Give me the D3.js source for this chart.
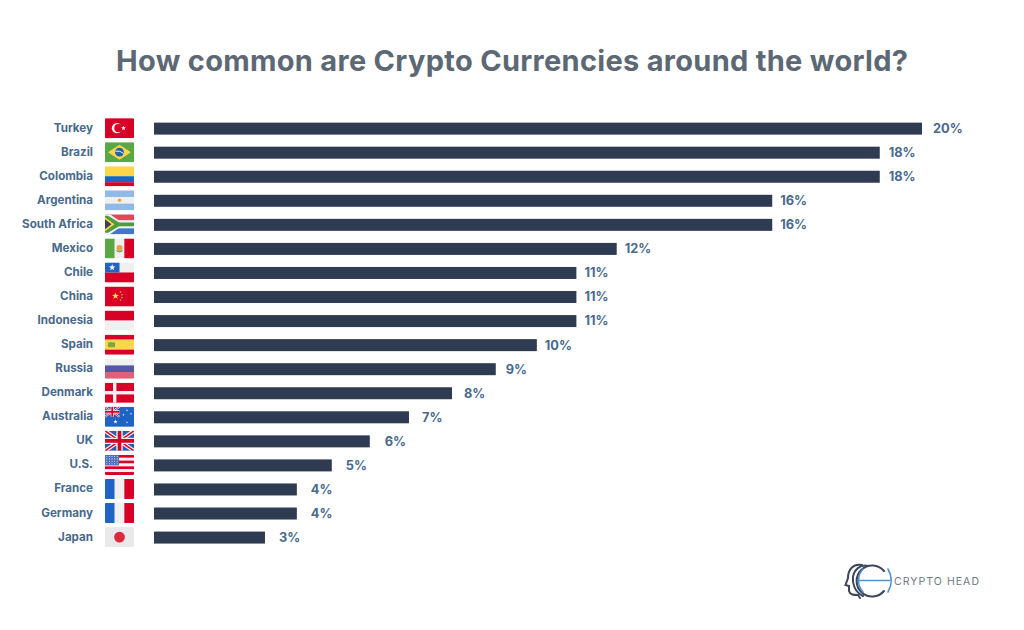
<!DOCTYPE html>
<html><head><meta charset="utf-8">
<script src="https://cdnjs.cloudflare.com/ajax/libs/d3/7.8.5/d3.min.js"></script>
<style>html,body{margin:0;padding:0;background:#fff}svg{display:block}text{font-family:Inter,"Noto Sans",sans-serif}</style>
</head><body><div id="c"></div>
<script>
const countries = ["Turkey","Brazil","Colombia","Argentina","South Africa","Mexico","Chile","China","Indonesia","Spain","Russia","Denmark","Australia","UK","U.S.","France","Germany","Japan"];
const barValues = [20,18.9,18.9,16.1,16.1,12.05,11,11,11,9.97,8.9,7.76,6.64,5.62,4.63,3.72,3.72,2.89];
const valueLabels = ["20%","18%","18%","16%","16%","12%","11%","11%","11%","10%","9%","8%","7%","6%","5%","4%","4%","3%"];
const chartTitle = "How common are Crypto Currencies around the world?";
const brandName = "CRYPTO HEAD";

const W=1024,H=630;
const svg=d3.select("#c").append("svg").attr("width",W).attr("height",H);
svg.append("rect").attr("width",W).attr("height",H).attr("fill","#fff");
const x=d3.scaleLinear().domain([0,20]).range([154,922]);
const y=d3.scaleBand().domain(countries).range([116.6,549.6]).paddingInner(0.5).paddingOuter(0.25);
const cy=d=>y(d)+y.bandwidth()/2;
const labelGaps=[11,9,9,8,8,8,8,8,8,8,10,12,13,15,14,14,14,14];

svg.append("text").attr("x",512).attr("y",71).attr("text-anchor","middle")
  .attr("font-size",29).attr("font-weight",700).attr("fill","#5c6873")
  .attr("textLength",792).attr("lengthAdjust","spacing").text(chartTitle);

svg.selectAll("rect.bar").data(countries).join("rect").attr("class","bar")
  .attr("x",x(0)).attr("y",d=>cy(d)-6).attr("height",12)
  .attr("width",(d,i)=>x(barValues[i])-x(0)).attr("fill","#2f3b50");

svg.selectAll("text.cat").data(countries).join("text").attr("class","cat")
  .attr("x",93).attr("y",d=>cy(d)+3).attr("text-anchor","end")
  .attr("font-size",11.6).attr("font-weight",700).attr("fill","#47698c").text(d=>d);

svg.selectAll("text.val").data(countries).join("text").attr("class","val")
  .attr("x",(d,i)=>x(barValues[i])+labelGaps[i]).attr("y",d=>cy(d)+4.4)
  .attr("font-size",12.8).attr("font-weight",700).attr("fill","#47698c").text((d,i)=>valueLabels[i]);

// flags: local box 29 x 20
const FW=29,FH=20;
const R="#d80027",B="#1f63c4",Wh="#f0f0f0";
const band=(g,cols,horizontal,w)=>{
  const tot=d3.sum(w||cols.map(()=>1));let p=0;
  cols.forEach((c,i)=>{const s=(w?w[i]:1)/tot;
    const r=g.append("rect").attr("fill",c);
    if(horizontal) r.attr("x",0).attr("y",p*FH).attr("width",FW).attr("height",s*FH+0.1);
    else r.attr("x",p*FW).attr("y",0).attr("width",s*FW+0.1).attr("height",FH);
    p+=s;});
};
const star=(g,cx,cy,r,fill)=>{
  const pts=d3.range(10).map(i=>{const a=-Math.PI/2+i*Math.PI/5,q=i%2?r*0.42:r;return [cx+q*Math.cos(a),cy+q*Math.sin(a)].join(",")}).join(" ");
  g.append("polygon").attr("points",pts).attr("fill",fill);
};
const fr=g=>band(g,[B,Wh,R],false);
const unionJack=(g,w,h)=>{
  g.append("rect").attr("width",w).attr("height",h).attr("fill","#2a5bb0");
  const l=(a,b,c,d,col,sw)=>g.append("line").attr("x1",a).attr("y1",b).attr("x2",c).attr("y2",d).attr("stroke",col).attr("stroke-width",sw);
  l(0,0,w,h,Wh,h*.2);l(w,0,0,h,Wh,h*.2);l(0,0,w,h,R,h*.08);l(w,0,0,h,R,h*.08);
  l(w/2,0,w/2,h,Wh,h*.32);l(0,h/2,w,h/2,Wh,h*.32);l(w/2,0,w/2,h,R,h*.18);l(0,h/2,w,h/2,R,h*.18);
};
const flagDraw={
 Turkey:g=>{band(g,[R],true);
   g.append("circle").attr("cx",12).attr("cy",10).attr("r",5.2).attr("fill","#f5f5f5");
   g.append("circle").attr("cx",13.4).attr("cy",10).attr("r",4.1).attr("fill",R);
   star(g,18.5,10,2.5,"#f5f5f5");},
 Brazil:g=>{band(g,["#5aa845"],true);
   g.append("polygon").attr("points","14.5,2.5 26,10 14.5,17.5 3,10").attr("fill","#fdd64a");
   g.append("circle").attr("cx",14.5).attr("cy",10).attr("r",4.4).attr("fill","#1f63a8");
   g.append("path").attr("d","M10.4,9 Q15,8 18.8,11.4").attr("fill","none").attr("stroke","#f0f0f0").attr("stroke-width",1);},
 Colombia:g=>band(g,["#fdd64a",B,R],true,[2,1.2,.8]),
 Argentina:g=>{band(g,["#8fb9e6",Wh,"#8fb9e6"],true);
   g.append("circle").attr("cx",14.5).attr("cy",10).attr("r",1.8).attr("fill","#f2a33a");},
 "South Africa":g=>{band(g,["#e0485a","#f0f0f0","#3f78c8"],true,[6,8,6]);
   g.append("polygon").attr("points","0,0 5,0 15,7 29,7 29,13 15,13 5,20 0,20").attr("fill","#f0f0f0");
   g.append("polygon").attr("points","0,1.5 3,1.5 14,8.2 29,8.2 29,11.8 14,11.8 3,18.5 0,18.5").attr("fill","#4f9c3f");
   g.append("polygon").attr("points","0,3 9.5,10 0,17").attr("fill","#fdd64a");
   g.append("polygon").attr("points","0,5 6.5,10 0,15").attr("fill","#3a4450");},
 Mexico:g=>{band(g,["#5aa845",Wh,R],false);
   g.append("circle").attr("cx",14.5).attr("cy",9.5).attr("r",3).attr("fill","#e8a04a");
   g.append("path").attr("d","M11.5,12 Q14.5,15 17.5,12").attr("fill","none").attr("stroke","#5aa845").attr("stroke-width",1.2);},
 Chile:g=>{band(g,[Wh,R],true);
   g.append("rect").attr("width",14.5).attr("height",10).attr("fill",B);
   star(g,7.2,5,3.4,"#f5f5f5");},
 China:g=>{band(g,[R],true);
   star(g,10.5,9.5,3.6,"#fdd64a");
   [[15.5,5.5],[17,8.2],[17,11],[15.5,13.6]].forEach(p=>star(g,p[0],p[1],1.1,"#fdd64a"));},
 Indonesia:g=>band(g,[R,Wh],true),
 Spain:g=>{band(g,[R,"#fdd64a",R],true,[1,2,1]);
   g.append("rect").attr("x",3).attr("y",7.5).attr("width",7).attr("height",5.2).attr("rx",1).attr("fill","#7ea83c");},
 Russia:g=>band(g,[Wh,"#5458a6","#e0607a"],true),
 Denmark:g=>{band(g,[R],true);
   g.append("rect").attr("x",8).attr("width",3.4).attr("height",FH).attr("fill",Wh);
   g.append("rect").attr("y",8.3).attr("width",FW).attr("height",3.4).attr("fill",Wh);},
 Australia:g=>{band(g,[B],true);
   unionJack(g.append("g"),14.5,10);
   star(g,10.5,15,2.2,"#f5f5f5");
   [[22,3.5],[18.5,8],[26,7],[22,15.5]].forEach(p=>star(g,p[0],p[1],1.2,"#f5f5f5"));},
 UK:g=>unionJack(g,FW,FH),
 "U.S.":g=>{band(g,[R,Wh,R,Wh,R,Wh,R],true);
   g.append("rect").attr("width",14).attr("height",10.5).attr("fill","#4a6fc0");
   d3.range(4).forEach(r=>d3.range(5).forEach(c=>g.append("circle").attr("cx",1.8+c*2.6).attr("cy",1.6+r*2.4).attr("r",.55).attr("fill","#e8e8f0")));},
 France:fr,
 Germany:fr,
 Japan:g=>{band(g,["#e9e9ec"],true);
   g.append("circle").attr("cx",14.5).attr("cy",10).attr("r",5.4).attr("fill","#dc2a3c");}
};
const defs=svg.append("defs");
defs.append("clipPath").attr("id","flagclip").append("rect").attr("width",FW).attr("height",FH).attr("rx",.8);
svg.selectAll("g.flag").data(countries).join("g").attr("class","flag")
  .attr("transform",d=>`translate(105,${cy(d)-10.5})`).attr("clip-path","url(#flagclip)")
  .each(function(d){flagDraw[d](d3.select(this));});

// logo
const logo=svg.append("g").attr("fill","none").attr("stroke-linecap","round");
const dark="#3c4859",blue="#4f8fd6";
logo.append("path").attr("d","M884,571 A15.5,15.5 0 1 0 884,591").attr("stroke",dark).attr("stroke-width",2.1);
logo.append("path").attr("d","M868,566 C860,564 854,570 853,577 C852,584 855,592 863,596").attr("stroke",dark).attr("stroke-width",2);
logo.append("path").attr("d","M862,565 C853,563 848,570 848,578 L845.5,585 L849,586 L849,591 C850,595 854,595 858,595 L860,598").attr("stroke",dark).attr("stroke-width",2);
logo.append("path").attr("d","M863,569 A17,17 0 0 0 863,592").attr("stroke",blue).attr("stroke-width",1.6);
logo.append("path").attr("d","M888,569 A23,23 0 0 1 888,592").attr("stroke",blue).attr("stroke-width",1.6);
logo.append("line").attr("x1",859).attr("x2",890).attr("y1",580.5).attr("y2",580.5).attr("stroke",blue).attr("stroke-width",1.6);
svg.append("text").attr("x",894).attr("y",585).attr("font-size",10.5).attr("font-weight",400)
  .attr("fill","#6f7884").attr("textLength",85).attr("lengthAdjust","spacing").text(brandName);
</script></body></html>
